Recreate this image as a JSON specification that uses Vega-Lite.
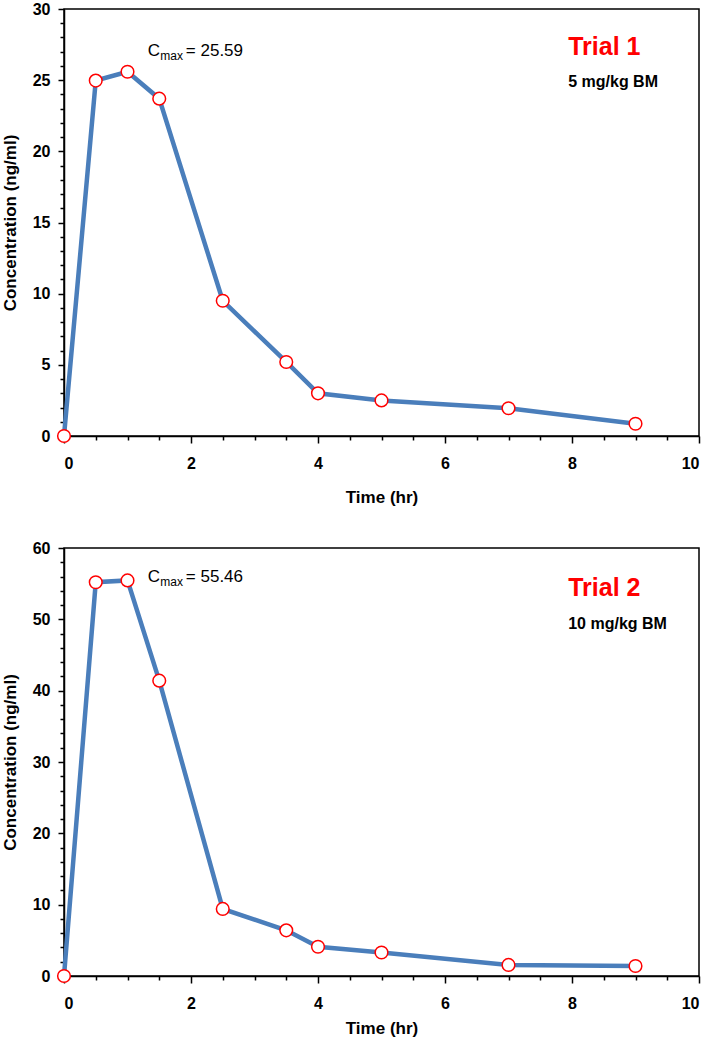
{
  "$schema": "https://vega.github.io/schema/vega-lite/v6.json",
  "background": "white",
  "padding": {"left": 0, "top": 0, "right": 0, "bottom": 0},
  "spacing": 33,
  "config": {
    "font": "Liberation Sans",
    "view": {"stroke": "black", "strokeWidth": 1.5},
    "axis": {
      "domainColor": "black", "domainWidth": 1.5, "tickColor": "black", "tickWidth": 1.5,
      "labelFont": "Liberation Sans", "labelFontWeight": "bold", "labelFontSize": 16, "labelColor": "black",
      "titleFont": "Liberation Sans", "titleFontWeight": "bold", "titleFontSize": 17, "titleColor": "black",
      "grid": false, "labelOverlap": false, "format": "d"
    }
  },
  "datasets": {
    "trial1": [
      {"time": 0, "conc": 0}, {"time": 0.5, "conc": 24.97}, {"time": 1, "conc": 25.59},
      {"time": 1.5, "conc": 23.7}, {"time": 2.5, "conc": 9.5}, {"time": 3.5, "conc": 5.2},
      {"time": 4, "conc": 3.0}, {"time": 5, "conc": 2.5}, {"time": 7, "conc": 1.95}, {"time": 9, "conc": 0.86}
    ],
    "trial2": [
      {"time": 0, "conc": 0}, {"time": 0.5, "conc": 55.2}, {"time": 1, "conc": 55.46},
      {"time": 1.5, "conc": 41.4}, {"time": 2.5, "conc": 9.4}, {"time": 3.5, "conc": 6.4},
      {"time": 4, "conc": 4.1}, {"time": 5, "conc": 3.3}, {"time": 7, "conc": 1.55}, {"time": 9, "conc": 1.4}
    ],
    "ann1": [
      {"time": 1.32, "conc": 26.7, "c": "C", "sub": "max", "rest": "= 25.59",
       "trial": "Trial 1", "tconc": 26.75, "dose": "5 mg/kg BM", "dconc": 24.5, "tx": 7.94}
    ],
    "ann2": [
      {"time": 1.32, "conc": 55.3, "c": "C", "sub": "max", "rest": "= 55.46",
       "trial": "Trial 2", "tconc": 53.3, "dose": "10 mg/kg BM", "dconc": 48.7, "tx": 7.94}
    ]
  },
  "vconcat": [
    {
      "width": 635, "height": 427,
      "encoding": {
        "x": {"field": "time", "type": "quantitative", "title": "Time (hr)",
          "scale": {"domain": [0, 10], "nice": false},
          "axis": {"values": [0,0.5,1,1.5,2,2.5,3,3.5,4,4.5,5,5.5,6,6.5,7,7.5,8,8.5,9,9.5,10],
            "labelExpr": "datum.value % 2 === 0 ? datum.label : ''",
            "tickSize": {"condition": {"test": "datum.value % 2 === 0", "value": 7}, "value": 4},
            "labelPadding": 12, "titlePadding": 18}},
        "y": {"field": "conc", "type": "quantitative", "title": "Concentration (ng/ml)",
          "scale": {"domain": [0, 30], "nice": false},
          "axis": {"values": [0,1,2,3,4,5,6,7,8,9,10,11,12,13,14,15,16,17,18,19,20,21,22,23,24,25,26,27,28,29,30],
            "labelExpr": "datum.value % 5 === 0 ? datum.label : ''",
            "tickSize": {"condition": {"test": "datum.value % 5 === 0", "value": 6}, "value": 4},
            "labelPadding": 8, "titlePadding": 13}}
      },
      "layer": [
        {"data": {"name": "trial1"}, "mark": {"type": "line", "color": "#4a7ebb", "strokeWidth": 4.5}},
        {"data": {"name": "trial1"}, "mark": {"type": "point", "filled": true, "fill": "white", "stroke": "#ff0000", "strokeWidth": 1.5, "size": 160, "opacity": 1}},
        {"data": {"name": "ann1"}, "mark": {"type": "text", "align": "left", "baseline": "alphabetic", "fontSize": 17, "color": "black"},
          "encoding": {"text": {"field": "c"}}},
        {"data": {"name": "ann1"}, "mark": {"type": "text", "align": "left", "baseline": "alphabetic", "fontSize": 12, "dx": 12.5, "dy": 4, "color": "black"},
          "encoding": {"text": {"field": "sub"}}},
        {"data": {"name": "ann1"}, "mark": {"type": "text", "align": "left", "baseline": "alphabetic", "fontSize": 17, "dx": 38, "color": "black"},
          "encoding": {"text": {"field": "rest"}}},
        {"data": {"name": "ann1"}, "mark": {"type": "text", "align": "left", "baseline": "alphabetic", "fontSize": 25, "fontWeight": "bold", "color": "#ff0000"},
          "encoding": {"x": {"field": "tx", "type": "quantitative"}, "y": {"field": "tconc", "type": "quantitative"}, "text": {"field": "trial"}}},
        {"data": {"name": "ann1"}, "mark": {"type": "text", "align": "left", "baseline": "alphabetic", "fontSize": 16, "fontWeight": "bold", "color": "black"},
          "encoding": {"x": {"field": "tx", "type": "quantitative"}, "y": {"field": "dconc", "type": "quantitative"}, "text": {"field": "dose"}}}
      ]
    },
    {
      "width": 635, "height": 428,
      "encoding": {
        "x": {"field": "time", "type": "quantitative", "title": "Time (hr)",
          "scale": {"domain": [0, 10], "nice": false},
          "axis": {"values": [0,0.5,1,1.5,2,2.5,3,3.5,4,4.5,5,5.5,6,6.5,7,7.5,8,8.5,9,9.5,10],
            "labelExpr": "datum.value % 2 === 0 ? datum.label : ''",
            "tickSize": {"condition": {"test": "datum.value % 2 === 0", "value": 7}, "value": 4},
            "labelPadding": 12, "titlePadding": 9}},
        "y": {"field": "conc", "type": "quantitative", "title": "Concentration (ng/ml)",
          "scale": {"domain": [0, 60], "nice": false},
          "axis": {"values": [0,2,4,6,8,10,12,14,16,18,20,22,24,26,28,30,32,34,36,38,40,42,44,46,48,50,52,54,56,58,60],
            "labelExpr": "datum.value % 10 === 0 ? datum.label : ''",
            "tickSize": {"condition": {"test": "datum.value % 10 === 0", "value": 6}, "value": 4},
            "labelPadding": 8, "titlePadding": 13}}
      },
      "layer": [
        {"data": {"name": "trial2"}, "mark": {"type": "line", "color": "#4a7ebb", "strokeWidth": 4.5}},
        {"data": {"name": "trial2"}, "mark": {"type": "point", "filled": true, "fill": "white", "stroke": "#ff0000", "strokeWidth": 1.5, "size": 160, "opacity": 1}},
        {"data": {"name": "ann2"}, "mark": {"type": "text", "align": "left", "baseline": "alphabetic", "fontSize": 17, "color": "black"},
          "encoding": {"text": {"field": "c"}}},
        {"data": {"name": "ann2"}, "mark": {"type": "text", "align": "left", "baseline": "alphabetic", "fontSize": 12, "dx": 12.5, "dy": 4, "color": "black"},
          "encoding": {"text": {"field": "sub"}}},
        {"data": {"name": "ann2"}, "mark": {"type": "text", "align": "left", "baseline": "alphabetic", "fontSize": 17, "dx": 38, "color": "black"},
          "encoding": {"text": {"field": "rest"}}},
        {"data": {"name": "ann2"}, "mark": {"type": "text", "align": "left", "baseline": "alphabetic", "fontSize": 25, "fontWeight": "bold", "color": "#ff0000"},
          "encoding": {"x": {"field": "tx", "type": "quantitative"}, "y": {"field": "tconc", "type": "quantitative"}, "text": {"field": "trial"}}},
        {"data": {"name": "ann2"}, "mark": {"type": "text", "align": "left", "baseline": "alphabetic", "fontSize": 16, "fontWeight": "bold", "color": "black"},
          "encoding": {"x": {"field": "tx", "type": "quantitative"}, "y": {"field": "dconc", "type": "quantitative"}, "text": {"field": "dose"}}}
      ]
    }
  ]
}
